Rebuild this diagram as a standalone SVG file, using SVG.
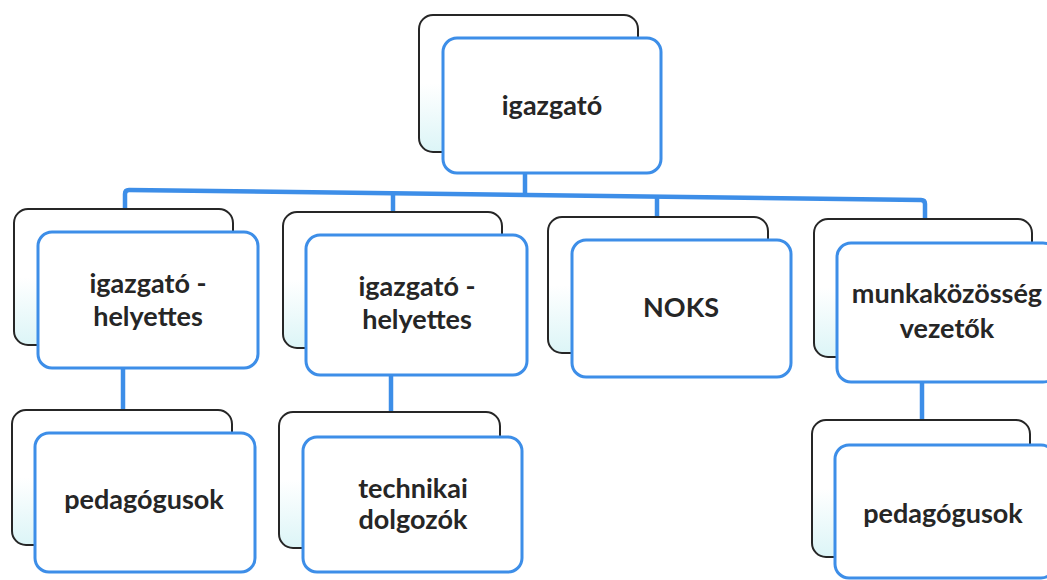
<svg xmlns="http://www.w3.org/2000/svg" width="1047" height="580" viewBox="0 0 1047 580">
<defs>
<linearGradient id="bg" x1="0" y1="0" x2="0" y2="1">
<stop offset="0.5" stop-color="#ffffff"/>
<stop offset="1" stop-color="#dcf5f7"/>
</linearGradient>
<style>
.back{fill:url(#bg);stroke:#262626;stroke-width:2}
.front{fill:#ffffff;stroke:#3d8ee8;stroke-width:3}
.lbl{font-family:Lato,"Open Sans","DejaVu Sans",sans-serif;font-weight:bold;font-size:27px;fill:#262626;text-anchor:middle}
.conn{fill:none;stroke:#3d8ee8;stroke-width:4.5;stroke-linejoin:round}
</style>
</defs>
<rect width="1047" height="580" fill="#ffffff"/>
<g id="connectors">
<path class="conn" d="M125,232 V194 Q125,190 129,190 L921,200 Q925,200 925,204 V219"/>
<path class="conn" d="M525,173 V194"/>
<path class="conn" d="M393,194 V212"/>
<path class="conn" d="M657,197 V217"/>
<path class="conn" d="M123,368 V410"/>
<path class="conn" d="M391,375 V412"/>
<path class="conn" d="M922,382 V420"/>
</g>
<g id="n-igazgato">
<rect class="back" x="419" y="15" width="219" height="137" rx="14"/>
<rect class="front" x="443" y="38" width="218" height="135" rx="14"/>
<text class="lbl" x="552" y="115">igazgató</text>
</g>
<g id="n-helyettes1">
<rect class="back" x="14" y="209" width="219" height="136" rx="14"/>
<rect class="front" x="38" y="232" width="220" height="136" rx="14"/>
<text class="lbl" x="148" y="293">igazgató -</text>
<text class="lbl" x="148" y="326">helyettes</text>
</g>
<g id="n-helyettes2">
<rect class="back" x="283" y="212" width="219" height="136" rx="14"/>
<rect class="front" x="306" y="235" width="221" height="140" rx="14"/>
<text class="lbl" x="417" y="296">igazgató -</text>
<text class="lbl" x="417" y="329">helyettes</text>
</g>
<g id="n-noks">
<rect class="back" x="548" y="217" width="220" height="136" rx="14"/>
<rect class="front" x="572" y="240" width="219" height="137" rx="14"/>
<text class="lbl" x="681" y="317">NOKS</text>
</g>
<g id="n-munkakozosseg">
<rect class="back" x="814" y="219" width="218" height="138" rx="14"/>
<rect class="front" x="837" y="243" width="220" height="139" rx="14"/>
<text class="lbl" x="947" y="303">munkaközösség</text>
<text class="lbl" x="947" y="338">vezetők</text>
</g>
<g id="n-pedagogusok1">
<rect class="back" x="12" y="410" width="220" height="135" rx="14"/>
<rect class="front" x="35" y="433" width="220" height="139" rx="14"/>
<text class="lbl" x="144" y="509">pedagógusok</text>
</g>
<g id="n-technikai">
<rect class="back" x="279" y="412" width="221" height="136" rx="14"/>
<rect class="front" x="303" y="437" width="219" height="135" rx="14"/>
<text class="lbl" x="413" y="498">technikai</text>
<text class="lbl" x="413" y="529">dolgozók</text>
</g>
<g id="n-pedagogusok2">
<rect class="back" x="812" y="420" width="218" height="137" rx="14"/>
<rect class="front" x="835" y="445" width="220" height="133" rx="14"/>
<text class="lbl" x="943" y="523">pedagógusok</text>
</g>
</svg>
